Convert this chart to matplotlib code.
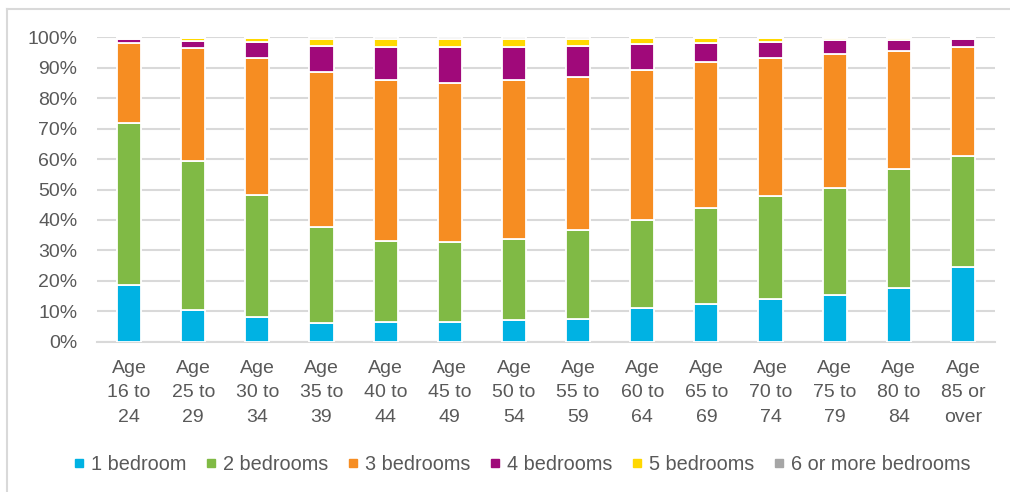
import numpy as np
import matplotlib.pyplot as plt
from matplotlib.lines import Line2D

plt.rcParams['font.family'] = ['Liberation Sans', 'DejaVu Sans']

# age bands and bedroom shares (percent of households)
ages = ['Age\n16 to\n24', 'Age\n25 to\n29', 'Age\n30 to\n34', 'Age\n35 to\n39',
        'Age\n40 to\n44', 'Age\n45 to\n49', 'Age\n50 to\n54', 'Age\n55 to\n59',
        'Age\n60 to\n64', 'Age\n65 to\n69', 'Age\n70 to\n74', 'Age\n75 to\n79',
        'Age\n80 to\n84', 'Age\n85 or\nover']

bed1 = [18.4, 10.5, 8.1, 6.1, 6.5, 6.4, 7.0, 7.5, 11.0, 12.4, 13.9, 15.3, 17.4, 24.3]
bed2 = [53.0, 48.7, 40.0, 31.3, 26.5, 26.3, 26.7, 29.0, 28.8, 31.3, 33.9, 35.1, 38.9, 36.6]
bed3 = [26.1, 36.9, 44.9, 50.7, 52.6, 52.0, 51.8, 50.2, 49.2, 47.8, 44.9, 43.7, 38.7, 35.5]
bed4 = [1.3, 2.4, 5.0, 8.8, 10.7, 11.6, 10.8, 10.0, 8.4, 6.3, 5.2, 4.6, 3.5, 2.5]
bed5 = [0.4, 0.9, 1.4, 2.3, 2.8, 2.8, 2.8, 2.5, 1.9, 1.5, 1.4, 0.5, 0.6, 0.4]
bed6 = [0.3, 0.3, 0.3, 0.4, 0.4, 0.4, 0.4, 0.4, 0.3, 0.3, 0.3, 0.3, 0.3, 0.3]

series = [bed1, bed2, bed3, bed4, bed5, bed6]
names = ['1 bedroom', '2 bedrooms', '3 bedrooms', '4 bedrooms', '5 bedrooms',
         '6 or more bedrooms']
colors = ['#00B2E3', '#80BA45', '#F68D22', '#A0097A', '#FFD800', '#A6A6A6']

data = np.array(series, dtype=float)
data = data / data.sum(axis=0) * 100  # 100% stacked

fig = plt.figure(figsize=(10.1, 4.92), dpi=100)
ax = fig.add_axes([97 / 1010, 150.3 / 492, 898 / 1010, 304.4 / 492])

x = np.arange(len(ages))
bottom = np.zeros(len(ages))
for vals, c in zip(data, colors):
    ax.bar(x, vals, width=0.375, bottom=bottom, color=c,
           edgecolor='white', linewidth=1.3, zorder=3)
    bottom += vals

ax.set_xlim(-0.5, len(ages) - 0.5)
ax.set_ylim(0, 100)
ax.set_yticks(np.arange(0, 101, 10))
ax.set_yticklabels([f'{v}%' for v in range(0, 101, 10)])
ax.yaxis.grid(True, color='#D9D9D9', linewidth=1.5, zorder=0)
ax.set_xticks(x)
ax.set_xticklabels(ages, linespacing=1.58)

for s in ['top', 'right', 'left']:
    ax.spines[s].set_visible(False)
ax.spines['bottom'].set_color('#D9D9D9')
ax.spines['bottom'].set_linewidth(1.5)
ax.tick_params(axis='both', length=0, labelsize=14, colors='#595959')
ax.tick_params(axis='x', pad=13)
ax.tick_params(axis='y', pad=14)

handles = [Line2D([], [], marker='s', linestyle='none', markersize=6,
                  markerfacecolor=c, markeredgecolor=c) for c in colors]
fig.legend(handles, names, loc='center', bbox_to_anchor=(522 / 1010, 1 - 464 / 492),
           ncol=6, frameon=False, fontsize=14.3, labelcolor='#595959',
           handlelength=0.6, handletextpad=0.3, columnspacing=0.95)

# chart area frame
fig.add_artist(Line2D([7 / 1010, 7 / 1010], [0, 1 - 9 / 492],
                      transform=fig.transFigure, color='#D9D9D9', linewidth=1.5))
fig.add_artist(Line2D([7 / 1010, 1], [1 - 9 / 492, 1 - 9 / 492],
                      transform=fig.transFigure, color='#D9D9D9', linewidth=1.5))

fig.savefig('out.png', dpi=100)
